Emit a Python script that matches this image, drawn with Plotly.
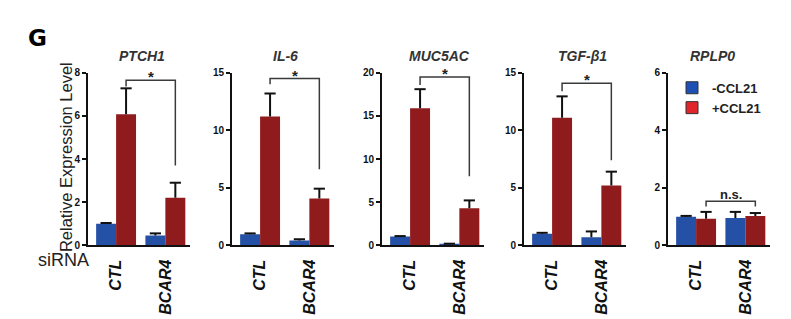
import plotly.graph_objects as go

# ---------------- data ----------------
genes = ["PTCH1", "IL-6", "MUC5AC", "TGF-β1", "RPLP0"]
categories = ["CTL", "BCAR4"]
series_names = ["-CCL21", "+CCL21"]
y_max = [8, 15, 20, 15, 6]
y_step = [2, 5, 5, 5, 2]
minus_vals = [[1.0, 0.45], [0.95, 0.42], [1.0, 0.12], [1.0, 0.7], [0.99, 0.95]]
minus_err = [[0.03, 0.1], [0.08, 0.1], [0.06, 0.06], [0.08, 0.5], [0.03, 0.21]]
plus_vals = [[6.08, 2.2], [11.2, 4.07], [15.9, 4.3], [11.1, 5.2], [0.92, 1.02]]
plus_err = [[1.2, 0.7], [2.0, 0.85], [2.2, 0.9], [1.85, 1.2], [0.24, 0.1]]
bracket_top = [7.65, 14.5, 19.5, 14.1, 1.53]
bracket_left_end = [7.37, 14.0, 18.6, 13.4, 1.35]
bracket_right_end = [3.7, 6.6, 8.0, 7.4, 1.35]
sig_labels = ["*", "*", "*", "*", "n.s."]

# ---------------- style / layout constants ----------------
W, H = 791, 319
BLUE = "#2450a6"
RED = "#8f1b1d"
LEG_BLUE = "#1e4fb4"
LEG_RED = "#e1262b"
BARGAP = 0.19
XRANGE = [-0.57, 1.5]
panel_left_px = [88, 232, 382, 524, 668]
panel_width_px = 102
y_dom_px = (70, 248)          # top, bottom in pixels
title_x_px = [142, 285, 439, 582, 712]
title_y_px = 53
FONT = "Liberation Sans"

def px_x(p):
    return p / W

def px_y(p):
    return 1 - p / H

fig = go.Figure()
half = (1 - BARGAP) / 4  # offset of each bar centre from category centre
groups = ["minus", "plus"]

for i, g in enumerate(genes):
    n = "" if i == 0 else str(i + 1)
    xa, ya = "x" + n, "y" + n
    xpos = list(range(len(categories)))
    for vals, errs, col, off, grp in ((minus_vals[i], minus_err[i], BLUE, -half, groups[0]),
                                      (plus_vals[i], plus_err[i], RED, half, groups[1])):
        fig.add_trace(go.Bar(
            x=xpos, y=vals, marker=dict(color=col, line=dict(width=0)),
            offsetgroup=grp,
            error_y=dict(type="data", symmetric=False, array=errs,
                         arrayminus=[0] * len(errs), width=0,
                         thickness=2, color="#111"),
            xaxis=xa, yaxis=ya, showlegend=False, hoverinfo="skip"))
        fig.add_trace(go.Scatter(
            x=[p + off for p in xpos], y=[v + e for v, e in zip(vals, errs)],
            mode="markers", marker=dict(symbol="line-ew", size=8,
                                        line=dict(width=2, color="#111")),
            xaxis=xa, yaxis=ya, showlegend=False, hoverinfo="skip",
            cliponaxis=False))

    # significance bracket (between the +CCL21 bars)
    xl, xr = 0 + half, 1 + half
    fig.add_shape(type="path",
                  path=f"M {xl} {bracket_left_end[i]} L {xl} {bracket_top[i]} "
                       f"L {xr} {bracket_top[i]} L {xr} {bracket_right_end[i]}",
                  xref=xa, yref=ya, line=dict(color="#3a3a3a", width=1.5))
    is_star = sig_labels[i] == "*"
    fig.add_annotation(x=(xl + xr) / 2, y=bracket_top[i], xref=xa, yref=ya,
                       text=f"<b>{sig_labels[i]}</b>", showarrow=False,
                       xanchor="center", yanchor="bottom",
                       yshift=-7 if is_star else -3,
                       font=dict(family=FONT, size=15 if is_star else 13, color="#222"))

    # gene title
    fig.add_annotation(x=px_x(title_x_px[i]), y=px_y(title_y_px), xref="paper", yref="paper",
                       text=g, showarrow=False, xanchor="center", yanchor="middle",
                       font=dict(family=FONT, size=14, color="#333",
                                 weight="bold", style="italic"))

    left = panel_left_px[i]
    fig.update_layout(**{
        ("xaxis" + n): dict(
            domain=[px_x(left), px_x(left + panel_width_px)], range=XRANGE,
            anchor=ya, tickmode="array", tickvals=xpos, ticktext=categories,
            tickangle=-90, ticks="", showline=True, linecolor="#111", linewidth=2,
            showgrid=False, zeroline=False, ticklabelstandoff=6,
            tickfont=dict(family=FONT, size=16, color="#111",
                          weight="bold", style="italic"),
            fixedrange=True),
        ("yaxis" + n): dict(
            domain=[px_y(y_dom_px[1]), px_y(y_dom_px[0])], range=[0, y_max[i]],
            anchor=xa, tick0=0, dtick=y_step[i], ticks="outside", ticklen=4,
            tickwidth=2, tickcolor="#111", showline=True, linecolor="#111",
            linewidth=2, showgrid=False, zeroline=False, mirror=False,
            tickfont=dict(family=FONT, size=10, color="#111", weight="bold"),
            fixedrange=True),
    })

# legend entries (on last panel, sharing the bar slots)
for name, col, grp in zip(series_names, (LEG_BLUE, LEG_RED), groups):
    fig.add_trace(go.Bar(x=[None], y=[None], name=name, offsetgroup=grp,
                         marker=dict(color=col, line=dict(color="#333", width=1)),
                         xaxis="x5", yaxis="y5", showlegend=True))

fig.add_annotation(x=px_x(66), y=px_y(157), xref="paper", yref="paper",
                   text="Relative Expression Level", textangle=-90, showarrow=False,
                   xanchor="center", yanchor="middle",
                   font=dict(family=FONT, size=16.5, color="#222"))
fig.add_annotation(x=px_x(63), y=px_y(263), xref="paper", yref="paper",
                   text="siRNA", showarrow=False, xanchor="center", yanchor="middle",
                   font=dict(family=FONT, size=18, color="#222"))
fig.add_annotation(x=px_x(37), y=px_y(34), xref="paper", yref="paper",
                   text="<b>G</b>", showarrow=False, xanchor="center", yanchor="middle",
                   font=dict(family="DejaVu Sans", size=23, color="#000"))

fig.update_layout(
    width=W, height=H, margin=dict(l=0, r=0, t=0, b=0),
    paper_bgcolor="white", plot_bgcolor="white",
    barmode="group", bargap=BARGAP, bargroupgap=0,
    legend=dict(x=px_x(672), y=px_y(70), xanchor="left", yanchor="top",
                bgcolor="rgba(0,0,0,0)", itemwidth=30, tracegroupgap=0,
                font=dict(family=FONT, size=13, color="#222", weight="bold")),
    showlegend=True,
)

fig.write_html("out.html")
